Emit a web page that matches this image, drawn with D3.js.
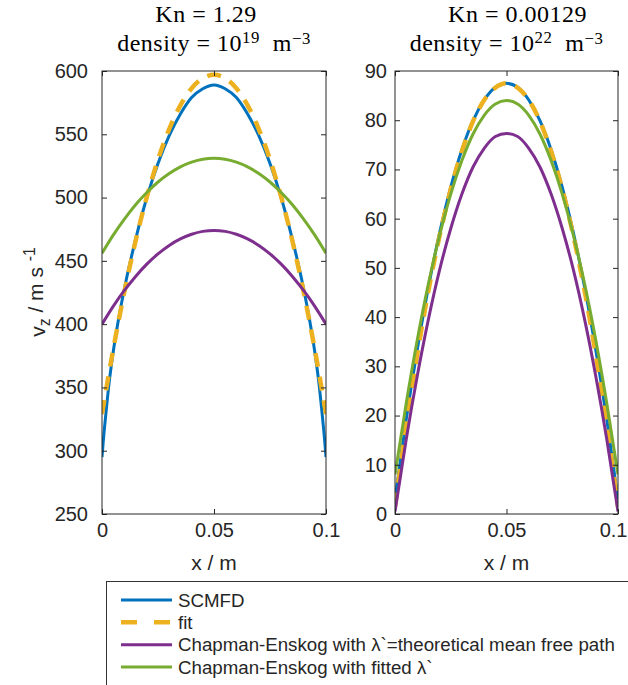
<!DOCTYPE html>
<html>
<head>
<meta charset="utf-8">
<script src="https://cdn.jsdelivr.net/npm/d3@7/dist/d3.min.js"></script>
<style>
  body { margin: 0; background: #fff; }
  svg text { font-family: "Liberation Sans", Arial, Helvetica, sans-serif; fill: #262626; }
  .ttl { font-family: "Liberation Serif", "Times New Roman", serif; font-size: 24px; letter-spacing: 0.5px; fill: #000; }
</style>
</head>
<body>
<div id="chart"></div>
<script>
// ---- data ----
const xTicks = [0, 0.05, 0.1];
const yTicksLeft = [250, 300, 350, 400, 450, 500, 550, 600];
const yTicksRight = [0, 10, 20, 30, 40, 50, 60, 70, 80, 90];

// sample positions (m)
const xsFine = [0, 0.0005, 0.001, 0.002, 0.003, 0.005, 0.0075, 0.01, 0.015, 0.02, 0.025, 0.03, 0.035, 0.04, 0.045,
  0.05, 0.055, 0.06, 0.065, 0.07, 0.075, 0.08, 0.085, 0.09, 0.0925, 0.095, 0.097, 0.098, 0.099, 0.0995, 0.1];
const xs = [0, 0.005, 0.01, 0.015, 0.02, 0.025, 0.03, 0.035, 0.04, 0.045, 0.05,
  0.055, 0.06, 0.065, 0.07, 0.075, 0.08, 0.085, 0.09, 0.095, 0.1];

// Kn = 1.29
const scmfdLeft = [295, 306, 316, 334, 351, 378, 405, 428, 467, 500, 527, 549, 566, 579, 586,
  589, 586, 579, 566, 549, 527, 500, 467, 428, 405, 378, 351, 334, 316, 306, 295];
const fitLeft = [329, 379.9, 425.5, 465.7, 500.5, 530, 554.1, 572.9, 586.3, 594.3, 597,
  594.3, 586.3, 572.9, 554.1, 530, 500.5, 465.7, 425.5, 379.9, 329];
const ceTheoLeft = [400, 414.1, 426.6, 437.7, 447.4, 455.5, 462.2, 467.3, 471.0, 473.3, 474,
  473.3, 471.0, 467.3, 462.2, 455.5, 447.4, 437.7, 426.6, 414.1, 400];
const ceFitLeft = [456, 470.3, 483, 494.3, 504, 512.3, 519, 524.3, 528, 530.3, 531,
  530.3, 528, 524.3, 519, 512.3, 504, 494.3, 483, 470.3, 456];

// Kn = 0.00129
const scmfdRight = [3, 19.1, 33.4, 46.1, 57.1, 66.4, 74, 79.9, 84.1, 86.7, 87.5,
  86.7, 84.1, 79.9, 74, 66.4, 57.1, 46.1, 33.4, 19.1, 3];
const fitRight = [1.5, 17.8, 32.5, 45.4, 56.5, 66, 73.7, 79.8, 84.1, 86.6, 87.5,
  86.6, 84.1, 79.8, 73.7, 66, 56.5, 45.4, 32.5, 17.8, 1.5];
const ceTheoRight = [0.5, 15.1, 28.1, 39.6, 49.6, 58.0, 65.0, 70.5, 74.3, 76.7, 77.3,
  76.7, 74.3, 70.5, 65.0, 58.0, 49.6, 39.6, 28.1, 15.1, 0.5];
const ceFitRight = [8, 22.4, 35.4, 46.8, 56.6, 65.0, 71.8, 77.2, 81.0, 83.3, 84.0,
  83.3, 81.0, 77.2, 71.8, 65.0, 56.6, 46.8, 35.4, 22.4, 8];

const legendLabels = ["SCMFD", "fit", "Chapman-Enskog with \u03bb`=theoretical mean free path", "Chapman-Enskog with fitted \u03bb`"];
const colors = ["#0072BD", "#EDB120", "#7E2F8E", "#77AC30"];

// ---- layout ----
const W = 628, H = 685;
const yTop = 71, yBottom = 514;

const svg = d3.select("#chart").append("svg")
  .attr("width", W).attr("height", H);

const panels = [
  { x0: 102, x1: 326, yDomain: [250, 600], yTicks: yTicksLeft, labelGap: 14,
    series: [[xsFine, scmfdLeft], [xs, fitLeft], [xs, ceTheoLeft], [xs, ceFitLeft]],
    kn: "1.29", exp: "19", knShift: -8 },
  { x0: 395, x1: 618, yDomain: [0, 90], yTicks: yTicksRight, labelGap: 8,
    series: [[xs, scmfdRight], [xs, fitRight], [xs, ceTheoRight], [xs, ceFitRight]],
    kn: "0.00129", exp: "22", knShift: 11 }
];

panels.forEach(p => {
  const x = d3.scaleLinear().domain([0, 0.1]).range([p.x0, p.x1]);
  const y = d3.scaleLinear().domain(p.yDomain).range([yBottom, yTop]);
  const g = svg.append("g");
  const cx = (p.x0 + p.x1) / 2;

  // curves, clipped to the axes box
  const clipId = "clip" + p.x0;
  svg.append("clipPath").attr("id", clipId)
    .append("rect").attr("x", p.x0).attr("y", yTop - 3).attr("width", p.x1 - p.x0).attr("height", yBottom - yTop + 3);

  const line = d3.line().x(d => x(d[0])).y(d => y(d[1])).curve(d3.curveMonotoneX);
  const curves = g.append("g").attr("clip-path", `url(#${clipId})`);
  p.series.forEach((s, i) => {
    const pts = s[0].map((v, k) => [v, s[1][k]]);
    curves.append("path")
      .datum(pts)
      .attr("d", line)
      .attr("fill", "none")
      .attr("stroke", colors[i])
      .attr("stroke-width", i === 1 ? 4.5 : 3)
      .attr("stroke-dasharray", i === 1 ? "14,10" : null);
  });

  // axes with inward ticks on all four sides
  const ax = g.append("g").attr("class", "axes");
  ax.append("g").attr("transform", `translate(0,${yBottom})`)
    .call(d3.axisBottom(x).tickValues(xTicks).tickSizeInner(-5).tickSizeOuter(0).tickPadding(0).tickFormat(d3.format("")))
    .call(a => a.selectAll("text").attr("y", 9).attr("dy", "0.71em"))
    // keep the last label inside the page edge
    .call(a => a.selectAll("text").filter(d => x(d) + 14 > W)
      .attr("text-anchor", "end").attr("x", W - 1 - p.x1));
  ax.append("g").attr("transform", `translate(0,${yTop})`)
    .call(d3.axisTop(x).tickValues(xTicks).tickSizeInner(-5).tickSizeOuter(0).tickFormat(""));
  ax.append("g").attr("transform", `translate(${p.x0},0)`)
    .call(d3.axisLeft(y).tickValues(p.yTicks).tickSizeInner(-5).tickSizeOuter(0).tickFormat(d3.format("")))
    .call(a => a.selectAll("text").attr("x", -p.labelGap));
  ax.append("g").attr("transform", `translate(${p.x1},0)`)
    .call(d3.axisRight(y).tickValues(p.yTicks).tickSizeInner(-5).tickSizeOuter(0).tickFormat(""));
  ax.selectAll(".domain").remove();
  ax.selectAll(".tick line").attr("stroke", "#262626").attr("stroke-width", 1);
  ax.selectAll(".tick text").attr("font-size", 20).attr("fill", "#262626")
    .attr("font-family", '"Liberation Sans", Arial, sans-serif');
  g.append("rect")
    .attr("x", p.x0).attr("y", yTop).attr("width", p.x1 - p.x0).attr("height", yBottom - yTop)
    .attr("fill", "none").attr("stroke", "#262626").attr("stroke-width", 1);

  // x label
  g.append("text").attr("x", cx).attr("y", 570)
    .attr("text-anchor", "middle").attr("font-size", 21).text("x / m");

  // titles
  g.append("text").attr("class", "ttl").attr("x", cx + p.knShift).attr("y", 22)
    .attr("text-anchor", "middle").text("Kn = " + p.kn);
  const t2 = g.append("text").attr("class", "ttl").attr("x", cx).attr("y", 51)
    .attr("text-anchor", "middle");
  t2.append("tspan").text("density = 10");
  t2.append("tspan").attr("dy", "-0.45em").attr("font-size", "70%").text(p.exp);
  t2.append("tspan").attr("dy", "0.32em").text("\u00a0 m");
  t2.append("tspan").attr("dy", "-0.45em").attr("font-size", "70%").text("\u22123");
});

// y label
const yl = svg.append("text")
  .attr("transform", "translate(45,292) rotate(-90)")
  .attr("text-anchor", "middle").attr("font-size", 21);
yl.append("tspan").text("v");
yl.append("tspan").attr("dy", "0.3em").attr("font-size", "75%").text("z");
yl.append("tspan").attr("dy", "-0.3em").text(" / m s ");
yl.append("tspan").attr("dy", "-0.55em").attr("font-size", "75%").text("-1");

// legend
const lg = svg.append("g");
lg.append("rect").attr("x", 106.5).attr("y", 581.5).attr("width", 600).attr("height", 200)
  .attr("fill", "#fff").attr("stroke", "#333").attr("stroke-width", 1);
const rowY = d3.scalePoint().domain(d3.range(legendLabels.length)).range([600, 667]);
legendLabels.forEach((lab, i) => {
  lg.append("line")
    .attr("x1", 121).attr("x2", 172).attr("y1", rowY(i)).attr("y2", rowY(i))
    .attr("stroke", colors[i]).attr("stroke-width", i === 1 ? 4.5 : 3)
    .attr("stroke-dasharray", i === 1 ? "16,17" : null);
  lg.append("text").attr("x", 178).attr("y", rowY(i)).attr("dy", "0.35em")
    .attr("font-size", 18.7).attr("fill", "#000").text(lab);
});
</script>
</body>
</html>
